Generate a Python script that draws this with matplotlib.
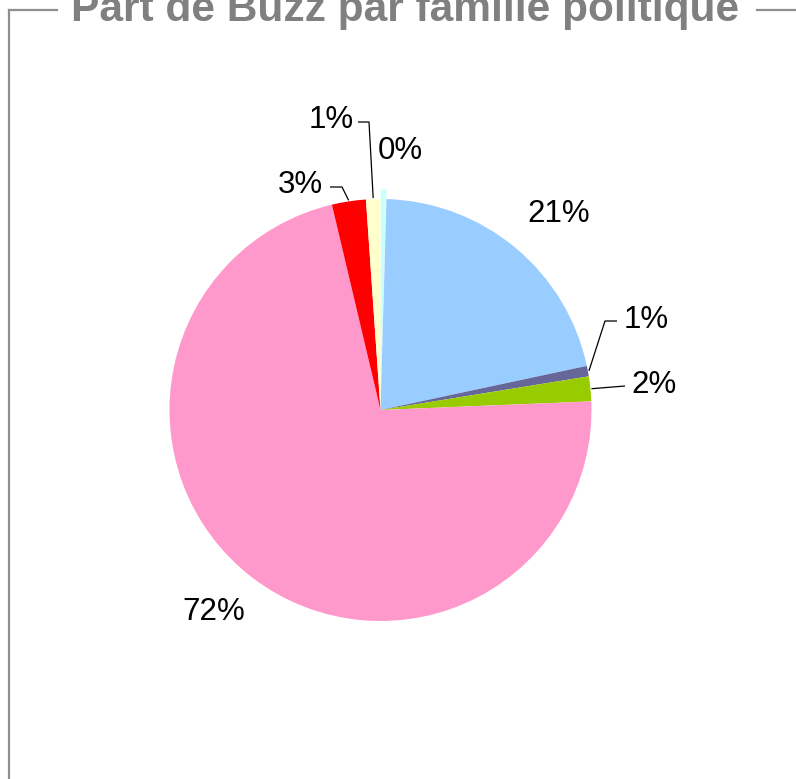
import matplotlib
matplotlib.use("Agg")
import matplotlib.pyplot as plt
from matplotlib.lines import Line2D
import numpy as np

# ---- data (order: clockwise from 12 o'clock) ----
families = ["Famille A", "Famille B", "Famille C", "Famille D", "Famille E", "Famille F", "Famille G"]
shares = [0.45, 21.2, 0.8, 1.9, 71.95, 2.6, 1.1]
colors = ["#CCFFFF", "#99CCFF", "#666699", "#99CC00", "#FF99CC", "#FF0000", "#FFFFCC"]
title = "Part de Buzz par famille politique"

W, H = 796, 779
fig = plt.figure(figsize=(W / 100, H / 100), dpi=100)
fig.patch.set_facecolor("white")

# pie geometry in pixels
CX, CY, R = 380.5, 410.0, 211.0
ax = fig.add_axes([0, 0, 1, 1])
def px(x, y):
    return ((x - CX) / R, (CY - y) / R)

explode = [0.047 if s < 0.5 else 0 for s in shares]
wedges, _ = ax.pie(shares, colors=colors, startangle=90, counterclock=False,
                   explode=explode, radius=1.0,
                   wedgeprops=dict(linewidth=0, antialiased=True))
ax.set_xlim(-CX / R, (W - CX) / R)
ax.set_ylim(-(H - CY) / R, CY / R)
ax.set_aspect("auto")
ax.axis("off")

font = dict(family=["Liberation Sans", "DejaVu Sans"], fontsize=22.5, color="black")

# label layout (pixel positions): (center x, center y, elbow, end-of-line)
layout = {
    0: dict(pos=(400, 151)),
    1: dict(pos=(559, 214)),
    2: dict(pos=(646, 320), elbow=(605, 321), end=(617, 321)),
    3: dict(pos=(654, 385), elbow=None, end=(625, 386)),
    4: dict(pos=(214, 612)),
    5: dict(pos=(300, 185), elbow=(342, 187), end=(330, 187)),
    6: dict(pos=(331, 120), elbow=(369, 122), end=(358, 122)),
}

for i, (w, s) in enumerate(zip(wedges, shares)):
    lay = layout[i]
    x, y = px(*lay["pos"])
    ax.text(x, y, f"{s:.0f}%", ha="center", va="center", **font)
    if "end" in lay:
        ang = np.deg2rad((w.theta1 + w.theta2) / 2)
        cx, cy = w.center
        ax_, ay_ = cx + 1.005 * np.cos(ang), cy + 1.005 * np.sin(ang)
        pts = [(ax_, ay_)]
        if lay["elbow"] is not None:
            pts.append(px(*lay["elbow"]))
        pts.append(px(*lay["end"]))
        xs, ys = zip(*pts)
        ax.plot(xs, ys, color="black", lw=0.9, solid_capstyle="butt")

# frame lines (fieldset-like border)
gray = "#8e8e8e"
def fl(x0, y0, x1, y1):
    fig.add_artist(Line2D([x0 / W, x1 / W], [1 - y0 / H, 1 - y1 / H],
                          color=gray, lw=1.6, transform=fig.transFigure))
fl(9, 10, 9, H)
fl(9, 10, 57, 10)
fl(757, 10, W, 10)

fig.text(405 / W, 1 - 21 / H, title, ha="center", va="baseline",
         fontsize=30.6, fontweight="bold", color="#808080",
         family=["Liberation Sans", "DejaVu Sans"])

fig.savefig("out.png", dpi=100, facecolor="white")
